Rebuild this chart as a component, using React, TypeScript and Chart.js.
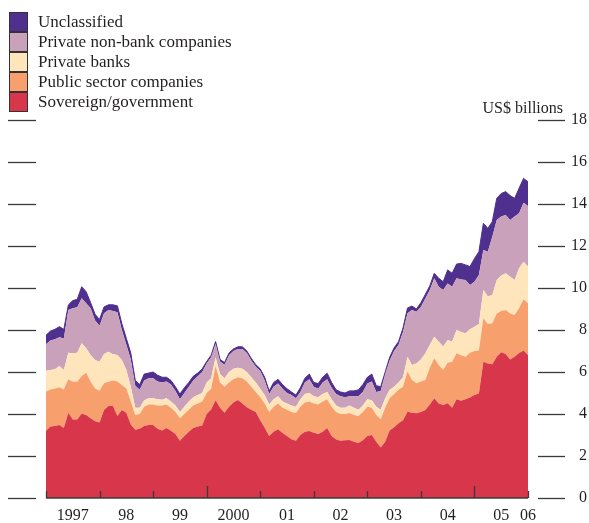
import React, { useEffect, useRef } from 'react';
import { Chart, registerables } from 'chart.js';

Chart.register(...registerables);

// Monthly categories, Jan 1997 .. Jan 2006
const MONTHS: string[] = [];
for (let yr = 1997; yr <= 2006; yr++) {
  for (let mo = 1; mo <= 12; mo++) {
    if (yr === 2006 && mo > 1) break;
    MONTHS.push(`${yr}-${String(mo).padStart(2, '0')}`);
  }
}

const YEAR_LABELS = ['1997', '98', '99', '2000', '01', '02', '03', '04', '05', '06'];
const TALL_TICK_YEARS = ['2000', '2005'];
const Y_TICKS = [0, 2, 4, 6, 8, 10, 12, 14, 16, 18];

const SERIES_NAMES = [
  'Sovereign/government',
  'Public sector companies',
  'Private banks',
  'Private non-bank companies',
  'Unclassified',
];
const COLORS = ['#D8364A', '#F7A06D', '#FEE5BC', '#C9A1BB', '#50308F'];

const sovereign = [
  3.2, 3.4, 3.43, 3.48, 3.33, 4.06, 3.74, 3.74, 4.02, 3.95, 3.8, 3.65,
  3.6, 4.19, 4.38, 4.38, 3.9, 4.19, 4.06, 3.5, 3.25, 3.3, 3.43, 3.48,
  3.48, 3.3, 3.22, 3.33, 3.2, 3.05, 2.73, 2.95, 3.16, 3.33, 3.4, 3.45,
  4.0, 4.22, 4.65, 4.3, 4.06, 4.35, 4.55, 4.67, 4.5, 4.32, 4.2, 4.1,
  3.7, 3.35, 2.95, 3.16, 3.27, 3.1, 2.95, 2.8, 2.73, 3.0, 3.15, 3.19,
  3.11, 3.05, 3.16, 3.33, 2.95, 2.78, 2.73, 2.75, 2.76, 2.68, 2.62, 2.75,
  2.95, 3.0, 2.68, 2.41, 2.68, 3.21, 3.37, 3.56, 3.7, 4.11, 4.06, 4.03,
  4.1, 4.19, 4.45, 4.75, 4.5, 4.43, 4.51, 4.3, 4.7, 4.63, 4.7, 4.78,
  4.9, 4.98, 6.49, 6.41, 6.37, 6.73, 6.94, 6.86, 6.6, 6.73, 6.9, 7.02,
  6.81,
];
const publicSector = [
  1.86, 1.77, 1.79, 1.79, 1.84, 1.59, 1.8, 1.8, 1.79, 2.02, 1.74, 1.57,
  1.51, 1.27, 1.16, 1.22, 1.65, 1.19, 1.16, 1.1, 0.7, 0.7, 0.92, 0.97,
  0.97, 1.1, 1.18, 1.12, 1.1, 1.05, 1.07, 1.05, 1.04, 1.07, 1.1, 1.15,
  1.0, 0.98, 1.65, 1.2, 1.24, 1.15, 1.1, 1.08, 1.2, 1.23, 1.1, 0.95,
  1.1, 1.15, 1.15, 1.19, 1.23, 1.2, 1.25, 1.3, 1.32, 1.35, 1.4, 1.41,
  1.39, 1.4, 1.44, 1.37, 1.4, 1.32, 1.27, 1.25, 1.29, 1.27, 1.28, 1.35,
  1.4, 1.3, 1.27, 1.34, 1.62, 1.54, 1.58, 1.59, 1.6, 1.91, 1.56, 1.43,
  1.45, 1.43, 1.75, 1.9, 1.83, 1.67, 1.93, 2.19, 2.19, 2.17, 2.03, 2.14,
  2.1, 2.04, 2.07, 1.88, 1.95, 2.06, 1.96, 2.09, 2.19, 1.98, 2.13, 2.44,
  2.46,
];
const privateBanks = [
  1.0, 0.93, 0.91, 1.02, 0.93, 1.27, 1.35, 1.38, 1.56, 1.16, 1.27, 1.35,
  1.38, 1.4, 1.43, 1.25, 1.26, 1.19, 0.88, 0.7, 0.35, 0.3, 0.3, 0.3,
  0.3, 0.3, 0.28, 0.3, 0.3, 0.3, 0.3, 0.35, 0.4, 0.4, 0.4, 0.4,
  0.5, 0.5, 0.4, 0.4, 0.4, 0.5, 0.5, 0.45, 0.45, 0.45, 0.45, 0.45,
  0.4, 0.4, 0.35, 0.35, 0.35, 0.3, 0.3, 0.3, 0.3, 0.35, 0.4, 0.4,
  0.35, 0.35, 0.35, 0.35, 0.35, 0.3, 0.3, 0.3, 0.35, 0.35, 0.3, 0.3,
  0.35, 0.35, 0.4, 0.45, 0.45, 0.4, 0.35, 0.35, 0.45, 0.71, 0.71, 0.95,
  1.05, 1.27, 1.1, 1.03, 1.11, 1.11, 1.08, 0.95, 1.11, 1.1, 1.11, 1.11,
  1.15, 1.27, 1.34, 1.3, 1.35, 1.59, 1.7, 1.75, 1.75, 1.67, 1.91, 1.79,
  1.75,
];
const privateNonBank = [
  1.26, 1.4, 1.43, 1.36, 1.5, 2.03, 2.14, 2.16, 2.14, 2.14, 2.22, 1.88,
  1.71, 1.94, 1.98, 2.05, 2.04, 1.43, 1.2, 1.3, 1.05, 0.85, 0.95, 0.95,
  0.95, 0.85, 0.82, 0.8, 0.8, 0.7, 0.6, 0.65, 0.7, 0.8, 0.9, 1.0,
  0.9, 1.0, 0.65, 0.6, 0.65, 0.8, 0.85, 0.9, 0.95, 0.9, 0.8, 0.75,
  0.85, 0.7, 0.5, 0.6, 0.6, 0.6, 0.5, 0.5, 0.4, 0.35, 0.55, 0.65,
  0.45, 0.4, 0.55, 0.6, 0.55, 0.55, 0.55, 0.5, 0.45, 0.55, 0.65, 0.65,
  0.75, 0.9, 0.7, 0.9, 1.15, 1.4, 1.7, 1.8, 2.15, 2.07, 2.62, 2.46,
  2.5, 2.61, 2.6, 2.78, 2.62, 2.69, 2.7, 2.62, 2.46, 2.5, 2.54, 2.11,
  2.15, 2.33, 1.91, 2.14, 2.77, 2.86, 2.8, 2.78, 2.7, 3.02, 2.62, 2.81,
  2.88,
];
const unclassified = [
  0.43, 0.45, 0.47, 0.51, 0.43, 0.24, 0.37, 0.38, 0.55, 0.55, 0.27, 0.3,
  0.3, 0.3, 0.25, 0.3, 0.3, 0.3, 0.3, 0.3, 0.25, 0.25, 0.3, 0.25,
  0.3, 0.3, 0.25, 0.2, 0.2, 0.2, 0.25, 0.25, 0.2, 0.2, 0.15, 0.15,
  0.1, 0.1, 0.1, 0.1, 0.1, 0.1, 0.1, 0.1, 0.1, 0.1, 0.1, 0.1,
  0.1, 0.15, 0.15, 0.2, 0.2, 0.2, 0.2, 0.15, 0.15, 0.2, 0.2, 0.25,
  0.2, 0.25, 0.25, 0.29, 0.25, 0.2, 0.2, 0.2, 0.25, 0.25, 0.3, 0.35,
  0.3, 0.35, 0.3, 0.2, 0.1, 0.15, 0.15, 0.15, 0.2, 0.25, 0.19, 0.13,
  0.2, 0.2, 0.2, 0.24, 0.4, 0.4, 0.64, 0.64, 0.68, 0.77, 0.72, 0.88,
  1.1, 1.11, 1.27, 1.11, 0.72, 1.03, 1.1, 1.11, 1.16, 0.87, 1.19, 1.16,
  1.16,
];

const SERIES = [sovereign, publicSector, privateBanks, privateNonBank, unclassified];

const FONT = "'Liberation Serif', 'Times New Roman', serif";
const TEXT_COLOR = '#231f20';
const RULE_COLOR = '#3b3b3b';

const labelIndices = MONTHS.map((m, i) => (m.endsWith('-07') || i === MONTHS.length - 1 ? i : -1)).filter(
  (i) => i >= 0
);

const decorPlugin = {
  id: 'decor',
  afterDatasetsDraw(chart: any) {
    const { ctx, chartArea: a, scales } = chart;
    const ys = scales.y;
    const xs = scales.x;
    const line = (x1: number, y1: number, x2: number, y2: number) => {
      ctx.beginPath();
      ctx.moveTo(x1, y1);
      ctx.lineTo(x2, y2);
      ctx.stroke();
    };
    ctx.save();
    ctx.strokeStyle = RULE_COLOR;
    ctx.lineWidth = 1.3;
    for (const v of Y_TICKS) {
      const py = Math.round(ys.getPixelForValue(v)) + 0.5;
      line(a.left - 38, py, a.left - 10, py);
      line(a.right + 10, py, a.right + 37, py);
    }
    ctx.lineWidth = 1.6;
    line(a.left, a.bottom, a.right, a.bottom);
    ctx.lineWidth = 1.3;
    MONTHS.forEach((m, i) => {
      if (m.endsWith('-01')) {
        const px = Math.round(xs.getPixelForValue(i)) + 0.5;
        const h = TALL_TICK_YEARS.includes(m.slice(0, 4)) ? 12 : 7;
        line(px, a.bottom, px, a.bottom - h);
      }
    });

    ctx.fillStyle = TEXT_COLOR;
    ctx.font = `16px ${FONT}`;
    ctx.textAlign = 'right';
    ctx.textBaseline = 'alphabetic';
    ctx.fillText('US$ billions', a.right + 35, a.top - 7);

    // legend (top of stack first)
    ctx.font = `17px ${FONT}`;
    ctx.textAlign = 'left';
    ctx.textBaseline = 'middle';
    for (let k = 0; k < SERIES_NAMES.length; k++) {
      const idx = SERIES_NAMES.length - 1 - k;
      const top = 12 + k * 20;
      ctx.fillStyle = COLORS[idx];
      ctx.fillRect(9, top, 19, 19);
      ctx.strokeStyle = '#333';
      ctx.lineWidth = 1;
      ctx.strokeRect(9.5, top + 0.5, 18, 19);
      ctx.fillStyle = TEXT_COLOR;
      ctx.fillText(SERIES_NAMES[idx], 38, top + 10.5);
    }
    ctx.restore();
  },
};

export default function App() {
  const ref = useRef<HTMLCanvasElement>(null);
  useEffect(() => {
    document.body.style.margin = '0';
    const canvas = ref.current!;
    const chart = new Chart(canvas, {
      type: 'line',
      data: {
        labels: MONTHS,
        datasets: SERIES.map((data, i) => ({
          label: SERIES_NAMES[i],
          data,
          backgroundColor: COLORS[i],
          borderColor: COLORS[i],
          borderWidth: i === 4 ? 1 : 0,
          pointRadius: 0,
          tension: 0,
          fill: i === 0 ? 'origin' : '-1',
        })),
      },
      options: {
        responsive: false,
        animation: false,
        devicePixelRatio: 1,
        layout: { padding: { top: 120, left: 46, right: 2, bottom: 0 } },
        plugins: { legend: { display: false }, tooltip: { enabled: false } },
        scales: {
          x: {
            type: 'category',
            offset: false,
            grid: { display: false, drawTicks: false },
            border: { display: false },
            afterBuildTicks: (scale: any) => {
              scale.ticks = labelIndices.map((v) => ({ value: v }));
            },
            afterFit: (scale: any) => {
              scale.height = 25;
            },
            ticks: {
              autoSkip: false,
              maxRotation: 0,
              minRotation: 0,
              padding: 8,
              color: TEXT_COLOR,
              font: { family: FONT, size: 16, lineHeight: 1.2 },
              callback: (_v: any, index: number) => YEAR_LABELS[index],
            },
          },
          y: {
            position: 'right',
            stacked: true,
            min: 0,
            max: 18,
            grid: { display: false, drawTicks: false },
            border: { display: false },
            afterBuildTicks: (scale: any) => {
              scale.ticks = Y_TICKS.map((v) => ({ value: v }));
            },
            afterFit: (scale: any) => {
              scale.width = 59;
            },
            ticks: {
              crossAlign: 'far',
              padding: 0,
              color: TEXT_COLOR,
              font: { family: FONT, size: 16 },
            },
          },
        },
      },
      plugins: [decorPlugin],
    } as any);
    return () => chart.destroy();
  }, []);
  return (
    <div style={{ width: 589, height: 523, position: 'relative' }}>
      <canvas ref={ref} width={589} height={523} style={{ display: 'block', width: 589, height: 523 }} />
    </div>
  );
}
